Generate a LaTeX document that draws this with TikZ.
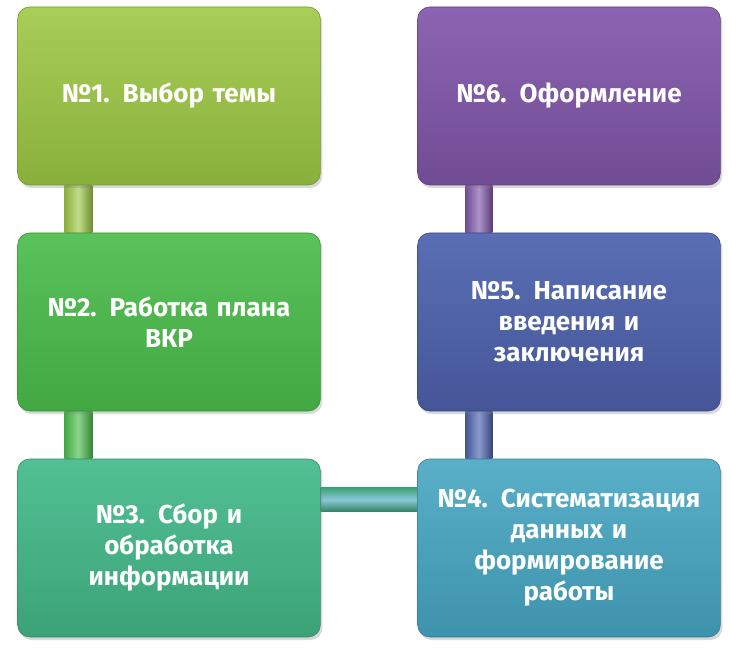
\documentclass[tikz,border=0pt]{standalone}
\usepackage{fontspec}
\setmainfont{Fira Sans}
\usetikzlibrary{shadows,backgrounds}
\definecolor{oliveT}{RGB}{168,206,88}
\definecolor{oliveB}{RGB}{138,176,60}
\definecolor{greenT}{RGB}{90,194,90}
\definecolor{greenB}{RGB}{66,168,66}
\definecolor{tealT}{RGB}{82,192,148}
\definecolor{tealB}{RGB}{60,162,120}
\definecolor{cyanT}{RGB}{90,176,200}
\definecolor{cyanB}{RGB}{62,146,172}
\definecolor{blueT}{RGB}{90,110,180}
\definecolor{blueB}{RGB}{68,86,152}
\definecolor{violetT}{RGB}{140,100,178}
\definecolor{violetB}{RGB}{112,76,148}

\begin{document}
\begin{tikzpicture}[x=1pt,y=1pt,
    stage/.style={rounded corners=12pt,minimum width=302pt,minimum height=178pt,
        text width=296pt,align=center,text=white,line width=0.6pt,
        font=\fontsize{26}{31}\selectfont\bfseries,
        drop shadow={opacity=0.3,shadow xshift=2pt,shadow yshift=-3pt}}]
    \useasboundingbox (0,0) rectangle (731,-652);
    \node[stage,draw=oliveB!85!black,top color=oliveT,bottom color=oliveB] (s1) at (169,-96) {№1. Выбор темы};
    \node[stage,draw=greenB!85!black,top color=greenT,bottom color=greenB] (s2) at (169,-322) {№2. Работка плана\\ВКР};
    \node[stage,draw=tealB!85!black,top color=tealT,bottom color=tealB] (s3) at (169,-548) {№3. Сбор и\\обработка\\информации};
    \node[stage,draw=cyanB!85!black,top color=cyanT,bottom color=cyanB] (s4) at (569,-548) {№4. Систематизация\\данных и\\формирование\\работы};
    \node[stage,draw=blueB!85!black,top color=blueT,bottom color=blueB] (s5) at (569,-322) {№5. Написание\\введения и\\заключения};
    \node[stage,draw=violetB!85!black,top color=violetT,bottom color=violetB] (s6) at (569,-96) {№6. Оформление};
    \begin{scope}[on background layer]
        \shade[left color=oliveB,right color=oliveB!80!black,middle color=oliveT!70!white] ([xshift=47pt]s1.south west) rectangle ([xshift=75pt]s2.north west);
        \shade[left color=greenB,right color=greenB!80!black,middle color=greenT!70!white] ([xshift=47pt]s2.south west) rectangle ([xshift=75pt]s3.north west);
        \shade[top color=tealB,bottom color=tealB!80!black,middle color=cyanT!70!white] ([yshift=-29pt]s3.north east) rectangle ([yshift=-53pt]s4.north west);
        \shade[left color=blueB,right color=blueB!80!black,middle color=blueT!70!white] ([xshift=48pt]s5.south west) rectangle ([xshift=75pt]s4.north west);
        \shade[left color=violetB,right color=violetB!80!black,middle color=violetT!70!white] ([xshift=48pt]s6.south west) rectangle ([xshift=75pt]s5.north west);
    \end{scope}
\end{tikzpicture}
\end{document}
